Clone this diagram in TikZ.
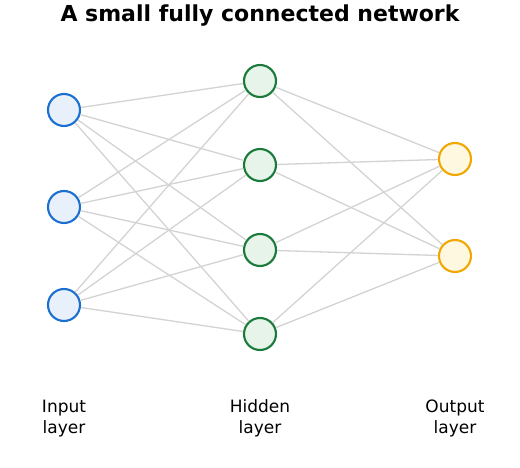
\documentclass[tikz,border=0pt]{standalone}
\usepackage{fontspec}
\setmainfont{DejaVu Sans}
\definecolor{inblue}{HTML}{1A6FD1}
\definecolor{infill}{HTML}{E8F0FB}
\definecolor{hidgreen}{HTML}{1A7A3A}
\definecolor{hidfill}{HTML}{E6F4EA}
\definecolor{outorange}{HTML}{F0A800}
\definecolor{outfill}{HTML}{FFF8E1}
\definecolor{edgegray}{HTML}{D3D3D3}
\begin{document}
\begin{tikzpicture}[x=1pt,y=-1pt,
  neuron/.style={circle,minimum size=32pt,inner sep=0pt,line width=2.1pt},
  inneuron/.style={neuron,draw=inblue,fill=infill},
  hidneuron/.style={neuron,draw=hidgreen,fill=hidfill},
  outneuron/.style={neuron,draw=outorange,fill=outfill},
  edge/.style={draw=edgegray,line width=1.3pt},
  layerlabel/.style={align=center,font=\fontsize{17}{20.5}\selectfont},
  titlestyle/.style={font=\fontsize{22}{26}\selectfont\bfseries}]
\useasboundingbox (0,0) rectangle (520,468);
\node[titlestyle] (title) at (260,16) {A small fully connected network};
\node[inneuron] (i1) at (64,110) {};
\node[inneuron] (i2) at (64,207) {};
\node[inneuron] (i3) at (64,305) {};
\node[hidneuron] (h1) at (260,81) {};
\node[hidneuron] (h2) at (260,165) {};
\node[hidneuron] (h3) at (260,250) {};
\node[hidneuron] (h4) at (260,334) {};
\node[outneuron] (o1) at (455,159) {};
\node[outneuron] (o2) at (455,256) {};
\foreach \i in {1,2,3}{\foreach \h in {1,2,3,4}{\draw[edge] (i\i) -- (h\h);}}
\foreach \h in {1,2,3,4}{\foreach \o in {1,2}{\draw[edge] (h\h) -- (o\o);}}
\node[layerlabel] (l1) at (64,418.5) {Input\\layer};
\node[layerlabel] (l2) at (260,418.5) {Hidden\\layer};
\node[layerlabel] (l3) at (455,418.5) {Output\\layer};
\end{tikzpicture}
\end{document}
